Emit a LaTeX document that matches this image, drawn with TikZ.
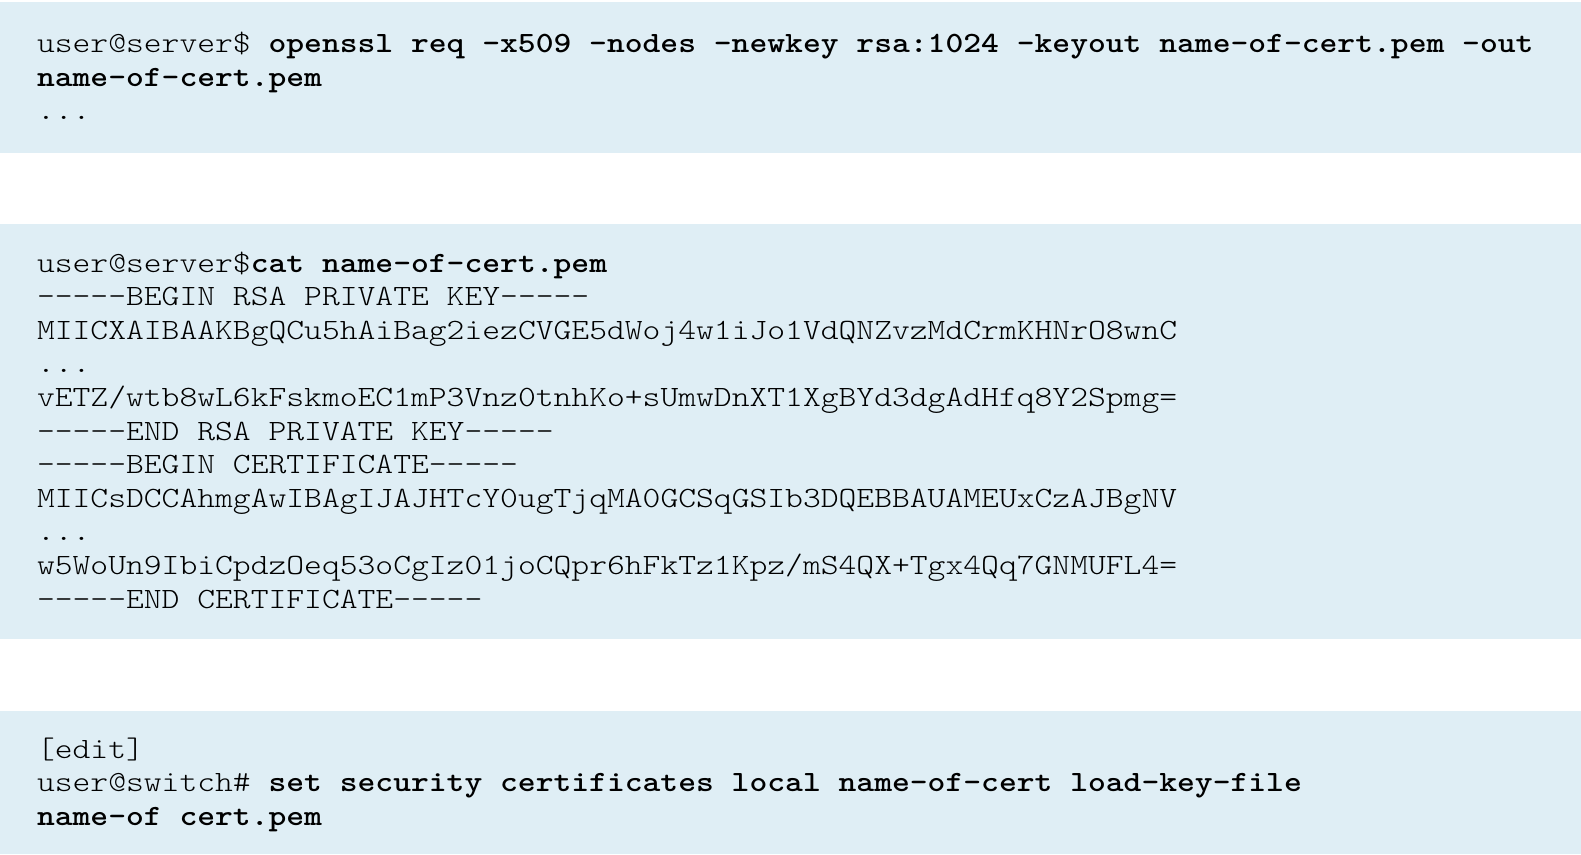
\documentclass[tikz,border=0pt]{standalone}
\usepackage{fontspec}
\setmonofont{lmmonolt10-regular.otf}[BoldFont=lmmonolt10-bold.otf, FakeStretch=1.153]
\definecolor{codebg}{RGB}{223,238,245}
\begin{document}
\begin{tikzpicture}[x=1bp,y=-1bp,
  codebox/.style={fill=codebg, draw=none},
  codeline/.style={anchor=base west, inner sep=0pt, outer sep=0pt,
    font=\fontsize{29.43bp}{33.4bp}\selectfont\ttfamily, text=black}]
\useasboundingbox[fill=white] (0,0) rectangle (1581,854);
% boxes
\path[codebox] (0,2) rectangle (1581,153);
\path[codebox] (0,224) rectangle (1581,639);
\path[codebox] (0,711) rectangle (1581,854);
% box 1
\node[codeline] (a1) at (37,52.5) {user@server\$ \textbf{openssl req -x509 -nodes -newkey rsa:1024 -keyout name-of-cert.pem -out}};
\node[codeline] (a2) at (37,86) {\textbf{name-of-cert.pem}};
\node[codeline] (a3) at (37,119.5) {...};
% box 2
\node[codeline] (b1) at (37,272) {user@server\$\textbf{cat name-of-cert.pem}};
\node[codeline] (b2) at (37,305.6) {-----BEGIN RSA PRIVATE KEY-----};
\node[codeline] (b3) at (37,339.2) {MIICXAIBAAKBgQCu5hAiBag2iezCVGE5dWoj4w1iJo1VdQNZvzMdCrmKHNrO8wnC};
\node[codeline] (b4) at (37,372.8) {...};
\node[codeline] (b5) at (37,406.4) {vETZ/wtb8wL6kFskmoEC1mP3Vnz0tnhKo+sUmwDnXT1XgBYd3dgAdHfq8Y2Spmg=};
\node[codeline] (b6) at (37,440) {-----END RSA PRIVATE KEY-----};
\node[codeline] (b7) at (37,473.6) {-----BEGIN CERTIFICATE-----};
\node[codeline] (b8) at (37,507.2) {MIICsDCCAhmgAwIBAgIJAJHTcY0ugTjqMA0GCSqGSIb3DQEBBAUAMEUxCzAJBgNV};
\node[codeline] (b9) at (37,540.8) {...};
\node[codeline] (b10) at (37,574.4) {w5WoUn9IbiCpdzOeq53oCgIz01joCQpr6hFkTz1Kpz/mS4QX+Tgx4Qq7GNMUFL4=};
\node[codeline] (b11) at (37,608) {-----END CERTIFICATE-----};
% box 3
\node[codeline] (c1) at (37,758) {[edit]};
\node[codeline] (c2) at (37,791.5) {user@switch\# \textbf{set security certificates local name-of-cert load-key-file}};
\node[codeline] (c3) at (37,825) {\textbf{name-of cert.pem}};
\end{tikzpicture}
\end{document}
